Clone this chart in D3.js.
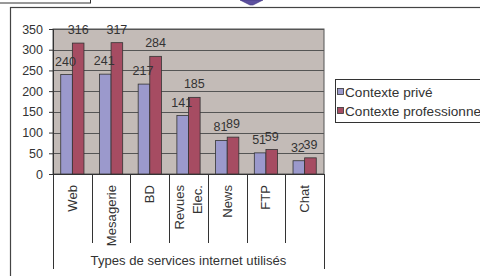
<!DOCTYPE html>
<html><head><meta charset="utf-8">
<script src="https://cdn.jsdelivr.net/npm/d3@7"></script>
<style>
html,body{margin:0;padding:0;background:#fff;overflow:hidden;}
svg{display:block;font-family:"Liberation Sans",Arial,sans-serif;}
</style></head>
<body>
<svg id="c" width="480" height="276"></svg>
<script>
const categories = [["Web"],["Mesagerie"],["BD"],["Revues","Elec."],["News"],["FTP"],["Chat"]];
const seriesNames = ["Contexte privé","Contexte professionnel"];
const prive = [240,241,217,141,81,51,32];
const professionnel = [316,317,284,185,89,59,39];
const yTicks = [0,50,100,150,200,250,300,350];
const axisTitle = "Types de services internet utilisés";
const colors = ["#9b99cc","#a64c62"];

const svg = d3.select("#c");
const fs = 12.5, fsText = 13.1, fsLegend = 13.6;
const L = 53, R = 324, T = 29, B = 174;

// decoration: top-left box and arrow tip
svg.append("rect").attr("x",-2).attr("y",-2).attr("width",92.5).attr("height",5)
  .attr("fill","#fff").attr("stroke","#333").attr("stroke-width",1);
svg.append("polygon").attr("points","240,0 263,0 253,5 250,5")
  .attr("fill","#5d509f").attr("stroke","#3d3480").attr("stroke-width",0.6);

// chart frame
svg.append("rect").attr("x",10.5).attr("y",7.5).attr("width",500).attr("height",300)
  .attr("fill","#fff").attr("stroke","#444").attr("stroke-width",1.2);

const x0 = d3.scaleBand().domain(d3.range(categories.length)).range([L,R]).paddingInner(0.4).paddingOuter(0.2);
const x1 = d3.scaleBand().domain([0,1]).range([0,x0.bandwidth()]);
const y = d3.scaleLinear().domain([0,350]).range([B,T]);

// plot background
svg.append("rect").attr("x",L).attr("y",T).attr("width",R-L).attr("height",B-T)
  .attr("fill","#c3bbb7").attr("stroke","#555").attr("stroke-width",1);

// gridlines
svg.append("g").selectAll("line").data(yTicks.filter(d=>d>0)).join("line")
  .attr("x1",L).attr("x2",R).attr("y1",d=>Math.round(y(d))+0.5).attr("y2",d=>Math.round(y(d))+0.5)
  .attr("stroke","#555").attr("stroke-width",1);

// bars
const data = [prive, professionnel];
const g = svg.append("g");
categories.forEach((c,i)=>{
  data.forEach((s,j)=>{
    g.append("rect").attr("x",x0(i)+x1(j)).attr("y",y(s[i]))
      .attr("width",x1.bandwidth()).attr("height",B-y(s[i]))
      .attr("fill",colors[j]).attr("stroke","#333").attr("stroke-width",0.8);
  });
});
// data labels
categories.forEach((c,i)=>{
  data.forEach((s,j)=>{
    g.append("text").attr("x",x0(i)+x1(j)+x1.bandwidth()/2 - (j===0?1:0)).attr("y",y(s[i])-9)
      .attr("text-anchor","middle").attr("font-size",fs).attr("fill","#333").text(s[i]);
  });
});

// y axis
const ya = svg.append("g").attr("transform",`translate(${L},0)`)
  .call(d3.axisLeft(y).tickValues(yTicks).tickSize(4).tickPadding(6));
ya.select(".domain").attr("stroke","#333");
ya.selectAll(".tick line").attr("stroke","#333");
ya.selectAll("text").attr("font-size",fs).attr("fill","#333").attr("font-family","Liberation Sans, Arial, sans-serif");
svg.append("line").attr("x1",L).attr("x2",R).attr("y1",B+0.5).attr("y2",B+0.5).attr("stroke","#333");

// category separators
const bounds = d3.range(categories.length+1).map(i=>L + i*x0.step());
svg.append("g").selectAll("line").data(bounds).join("line")
  .attr("x1",d=>Math.round(d)+0.5).attr("x2",d=>Math.round(d)+0.5)
  .attr("y1",B).attr("y2",(d,i)=> (i===0||i===bounds.length-1) ? 269 : 243)
  .attr("stroke","#333").attr("stroke-width",1);

// category labels (rotated)
categories.forEach((lines,i)=>{
  const cx = x0(i)+x0.bandwidth()/2;
  const n = lines.length;
  lines.forEach((t,k)=>{
    const off = n===1 ? 4.5 : (k===0 ? -5 : 13.5);
    svg.append("text").attr("transform",`translate(${cx+off},185) rotate(-90)`)
      .attr("text-anchor","end").attr("font-size",fsText).attr("fill","#333").text(t);
  });
});

// axis title
svg.append("text").attr("x",(L+R)/2).attr("y",265).attr("text-anchor","middle")
  .attr("font-size",fsText).attr("fill","#333").text(axisTitle);

// legend
svg.append("rect").attr("x",335.5).attr("y",79.5).attr("width",200).attr("height",43)
  .attr("fill","#fff").attr("stroke","#333").attr("stroke-width",1);
seriesNames.forEach((n,j)=>{
  const yy = 92 + j*19;
  svg.append("rect").attr("x",337.5).attr("y",yy-3.5).attr("width",6).attr("height",6)
    .attr("fill",colors[j]).attr("stroke","#333").attr("stroke-width",0.8);
  svg.append("text").attr("x",345).attr("y",yy+4.5).attr("font-size",fsLegend).attr("fill","#333").text(n);
});
</script>
</body></html>
